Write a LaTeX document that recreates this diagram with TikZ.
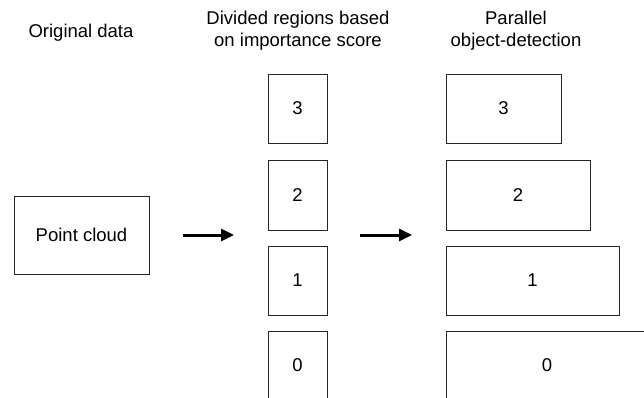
\documentclass[tikz,border=0pt]{standalone}
\usepackage{fontspec}
\setmainfont{Liberation Sans}
\usetikzlibrary{arrows.meta}
\tikzset{
  regbox/.style={draw=black!85, line width=0.9pt, inner sep=0pt},
  lbl/.style={align=center, font=\fontsize{18.5}{22}\selectfont},
  flow/.style={line width=3pt, -{Triangle[length=13pt,width=12pt]}}
}
\newcommand{\regnode}[6]{\node[regbox, lbl, minimum width=#4pt, minimum height=#5pt] (#1) at ( #2 , #3 ) {#6};}

\begin{document}
\begin{tikzpicture}[x=1pt,y=-1pt]
        \useasboundingbox (0,0) rectangle (644,398);
        \clip (0,0) rectangle (644,398);

        %titles
        \node[lbl] (torig) at (81,33) {Original data};
        \node[lbl] (tdiv) at (298,31) {Divided regions based\\on importance score};
        \node[lbl] (tpar) at (516,31) {Parallel\\object-detection};

        %nodes
        \regnode{pc}{81.5}{235}{135}{78}{Point cloud}
        \regnode{d3}{297.5}{108.5}{59}{69}{3}
        \regnode{d2}{297.5}{195}{59}{70}{2}
        \regnode{d1}{297.5}{280.5}{59}{69}{1}
        \regnode{d0}{297.5}{365.5}{59}{69}{0}
        \regnode{p3}{503.5}{108.5}{115}{69}{3}
        \regnode{p2}{518}{195}{144}{70}{2}
        \regnode{p1}{532.5}{280.5}{173}{69}{1}
        \regnode{p0}{547}{365.5}{202}{69}{0}

        %edges
        \coordinate (a1s) at (183,235);
        \coordinate (a1e) at (234,235);
        \coordinate (a2s) at (360,235);
        \coordinate (a2e) at (412,235);
        \draw[flow] (a1s) -- (a1e);
        \draw[flow] (a2s) -- (a2e);
\end{tikzpicture}
\end{document}
